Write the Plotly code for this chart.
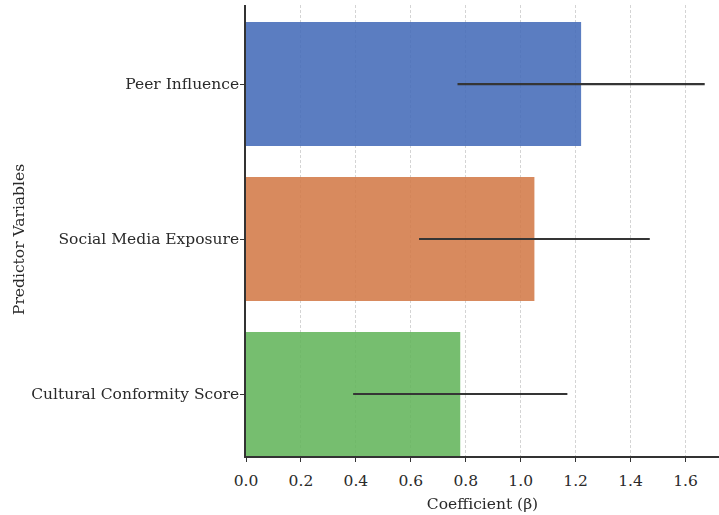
import plotly.graph_objects as go

categories = ["Cultural Conformity Score", "Social Media Exposure", "Peer Influence"]
coefficients = [0.78, 1.05, 1.22]
errors = [0.39, 0.42, 0.45]
colors = ["rgb(99,182,92)", "rgb(211,122,72)", "rgb(69,107,185)"]
x_ticks = [0.0, 0.2, 0.4, 0.6, 0.8, 1.0, 1.2, 1.4, 1.6]

FONT = "DejaVu Serif"
TXT = "#2a2a2a"

fig = go.Figure()
fig.add_trace(go.Bar(
    y=categories,
    x=coefficients,
    orientation="h",
    width=0.8,
    marker=dict(color=colors, line=dict(width=0)),
    opacity=0.88,
    error_x=dict(type="data", array=errors, visible=True, width=0,
                 thickness=2.2, color="#1a1a1a"),
    showlegend=False,
    cliponaxis=False,
))

fig.update_layout(
    width=719, height=515,
    margin=dict(l=246, r=0, t=5, b=59, autoexpand=False),
    paper_bgcolor="white", plot_bgcolor="white",
    font=dict(family=FONT, size=15.5, color=TXT),
    xaxis=dict(
        range=[0, 1.722],
        tickvals=x_ticks,
        ticktext=[f"{v:.1f}" for v in x_ticks],
        showgrid=True, gridcolor="#d4d4d4", griddash="3px,2px", gridwidth=1,
        showline=True, linecolor="#333", linewidth=1.5,
        ticks="outside", ticklen=4, tickcolor="#333", tickwidth=1.2,
        zeroline=False, automargin=False,
        ticklabelstandoff=6,
        title=dict(text="Coefficient (β)", font=dict(family=FONT, size=15.5), standoff=9),
    ),
    yaxis=dict(
        type="category",
        categoryorder="array", categoryarray=categories,
        range=[-0.4, 2.51],
        showgrid=False,
        showline=True, linecolor="#333", linewidth=1.5,
        ticks="outside", ticklen=4, tickcolor="#333", tickwidth=1.2,
        zeroline=False, automargin=False,
        ticklabelstandoff=-2,
    ),
    annotations=[dict(
        text="Predictor Variables", textangle=-90,
        xref="paper", yref="paper", x=-0.481, y=0.48,
        xanchor="center", yanchor="middle", showarrow=False,
        font=dict(family=FONT, size=15.5, color=TXT),
    )],
)

fig.write_html("out.html",
               config={"displayModeBar": False},
               post_script="document.body.style.margin='0';document.body.style.padding='0';document.body.style.overflow='hidden';")
